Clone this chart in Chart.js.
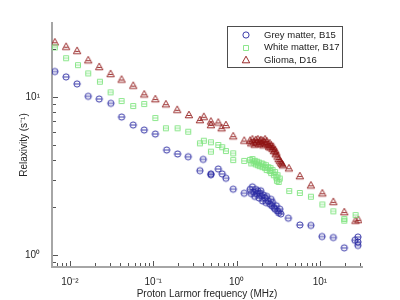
<!DOCTYPE html>
<html>
<head>
<meta charset="utf-8">
<script src="https://cdn.jsdelivr.net/npm/chart.js@4/dist/chart.umd.min.js"></script>
<style>
    html, body { margin: 0; padding: 0; background: #ffffff; }
</style>
</head>
<body>
<canvas id="relax" width="400" height="300"></canvas>
<script>
// Grey matter, B15 (circles)
const greyFreq = [0.0066, 0.009, 0.0122, 0.0166, 0.0225, 0.031, 0.0417, 0.0575, 0.078, 0.106, 0.145, 0.196, 0.263, 0.363, 0.398, 0.492, 0.492, 0.603, 0.673, 0.745, 0.912, 1.235,
    1.45, 1.5, 1.55, 1.6, 1.65, 1.7, 1.75, 1.8, 1.85, 1.9, 1.95, 2.0, 2.05, 2.1, 2.2, 2.25, 2.3, 2.4, 2.5, 2.6, 2.65, 2.7, 2.8, 2.9, 3.0, 3.1, 3.2, 3.3, 3.4,
    4.18, 5.75, 7.8, 10.6, 14.5, 19.6, 26.3, 28.6, 28.6, 28.6];
const greyRelax = [14.5, 13.4, 12.1, 10.1, 9.71, 9.12, 7.47, 6.65, 6.18, 5.83, 4.62, 4.36, 4.19, 3.42, 4.03, 3.26, 3.22, 3.50, 3.26, 3.06, 2.61, 2.46,
    2.6, 2.45, 2.7, 2.5, 2.35, 2.6, 2.45, 2.55, 2.3, 2.45, 2.55, 2.35, 2.2, 2.4, 2.3, 2.15, 2.35, 2.2, 2.1, 2.25, 2.05, 2.15, 2.0, 1.95, 2.05, 1.9, 1.85, 1.95, 1.82,
    1.71, 1.55, 1.54, 1.31, 1.29, 1.11, 1.24, 1.30, 1.21, 1.15];

// White matter, B17 (squares)
const whiteFreq = [0.0066, 0.009, 0.0125, 0.0166, 0.0229, 0.0308, 0.0417, 0.0575, 0.078, 0.106, 0.142, 0.196, 0.263, 0.363, 0.405, 0.492, 0.492, 0.603, 0.673, 0.745, 0.912, 0.912, 1.235,
    1.45, 1.5, 1.55, 1.6, 1.65, 1.7, 1.75, 1.8, 1.85, 1.9, 2.0, 2.05, 2.1, 2.2, 2.25, 2.3, 2.4, 2.5, 2.55, 2.6, 2.7, 2.8, 2.9, 3.0, 3.05, 3.1, 3.2, 3.3,
    4.28, 5.75, 7.8, 10.7, 14.5, 19.6, 19.6, 26.8];
const whiteRelax = [20.6, 17.6, 15.9, 14.1, 12.5, 10.7, 9.43, 8.77, 9.03, 7.36, 6.34, 6.34, 6.03, 5.09, 5.29, 5.17, 4.51, 4.97, 4.81, 4.55, 4.40, 3.99, 3.94,
    4.0, 3.8, 4.05, 3.85, 3.95, 3.75, 3.9, 3.7, 3.85, 3.65, 3.8, 3.6, 3.75, 3.55, 3.7, 3.45, 3.6, 3.4, 3.55, 3.3, 3.45, 3.2, 3.35, 3.1, 2.95, 3.2, 2.9, 3.05,
    2.54, 2.47, 2.34, 2.09, 1.89, 1.65, 1.69, 1.79];

// Glioma, D16 (triangles)
const gliomaFreq = [0.0066, 0.009, 0.0122, 0.0166, 0.0225, 0.0308, 0.0417, 0.0575, 0.078, 0.106, 0.142, 0.194, 0.268, 0.363, 0.405, 0.492, 0.492, 0.603, 0.661, 0.745, 0.912, 1.235,
    1.45, 1.5, 1.55, 1.6, 1.65, 1.7, 1.75, 1.8, 1.85, 1.9, 1.95, 2.0, 2.05, 2.1, 2.15, 2.2, 2.25, 2.3, 2.4, 2.45, 2.5, 2.55, 2.6, 2.7, 2.75, 2.8, 2.9, 2.95, 3.0, 3.1, 3.2, 3.3, 3.4, 3.5, 3.6,
    4.25, 5.75, 7.8, 10.7, 14.5, 19.6, 26.7, 29.0];
const gliomaRelax = [22.2, 20.8, 19.6, 17.1, 15.5, 14.0, 12.9, 11.8, 10.4, 9.7, 9.0, 8.3, 7.7, 7.15, 7.5, 7.0, 6.65, 6.9, 6.35, 6.65, 5.65, 5.3,
    5.3, 5.1, 5.4, 5.2, 5.0, 5.35, 5.15, 5.4, 5.05, 5.25, 5.35, 5.1, 5.3, 4.95, 5.2, 5.4, 5.05, 5.25, 5.0, 4.85, 5.1, 4.8, 4.95, 4.7, 4.85, 4.55, 4.6, 4.35, 4.45, 4.2, 4.05, 3.95, 3.85, 3.78, 3.7,
    3.54, 3.16, 2.76, 2.46, 2.17, 1.87, 1.65, 1.67];

const seriesLabels = ["Grey matter, B15", "White matter, B17", "Glioma, D16"];
const seriesColors = ["#2626a0", "#80e480", "#8e1414"];
const seriesShapes = ["circle", "square", "triangle"];

const xMin = 0.0061, xMax = 32;
const yMin = 0.84, yMax = 29.4;

const FONT = "Arial, Liberation Sans, sans-serif";
const SUP = {"-": "\u207B", "0": "\u2070", "1": "\u00B9", "2": "\u00B2", "3": "\u00B3", "4": "\u2074", "5": "\u2075", "6": "\u2076", "7": "\u2077", "8": "\u2078", "9": "\u2079"};

function isPow10(v) {
    const l = Math.log10(v);
    return Math.abs(l - Math.round(l)) < 1e-9;
}

function powLabel(v) {
    if (!isPow10(v)) return "";
    const e = String(Math.round(Math.log10(v)));
    return "10" + e.split("").map(c => SUP[c]).join("");
}

// ticks at 1..9 x 10^n inside the axis range
function decadeTicks(scale) {
    const out = [];
    const e0 = Math.floor(Math.log10(scale.min)), e1 = Math.ceil(Math.log10(scale.max));
    for (let e = e0; e <= e1; e++) {
        for (let m = 1; m <= 9; m++) {
            const v = parseFloat((m * Math.pow(10, e)).toPrecision(6));
            if (v >= scale.min && v <= scale.max) out.push({value: v});
        }
    }
    scale.ticks = out;
}

// marker with the small horizontal bar through it
function makeMarker(shape, color, bar) {
    const c = document.createElement("canvas");
    c.width = 10; c.height = 10;
    const g = c.getContext("2d");
    g.strokeStyle = color;
    g.lineWidth = 0.9;
    g.beginPath();
    if (shape === "circle") {
        g.arc(5, 5, 3.1, 0, Math.PI * 2);
    } else if (shape === "square") {
        g.rect(2.5, 2.5, 5, 5);
    } else {
        g.moveTo(5, 1.2); g.lineTo(8.7, 7.8); g.lineTo(1.3, 7.8); g.closePath();
    }
    g.stroke();
    if (bar) {
        g.beginPath();
        if (shape === "triangle") { g.moveTo(3.2, 5.5); g.lineTo(6.8, 5.5); }
        else if (shape === "square") { g.moveTo(2.5, 5); g.lineTo(7.5, 5); }
        else { g.moveTo(1.9, 5); g.lineTo(8.1, 5); }
        g.stroke();
    }
    return c;
}

function toPoints(xs, ys) {
    return xs.map((x, i) => ({x: x, y: ys[i]}));
}

const inwardTicks = {
    id: "inwardTicks",
    afterDraw(chart) {
        const {ctx, chartArea} = chart;
        const xs = chart.scales.x, ys = chart.scales.y;
        ctx.save();
        ctx.strokeStyle = "#555555";
        ctx.lineWidth = 1;
        xs.ticks.forEach(t => {
            const px = Math.round(xs.getPixelForValue(t.value)) + 0.5;
            const len = isPow10(t.value) ? 5 : 3;
            ctx.beginPath(); ctx.moveTo(px, chartArea.bottom - 1); ctx.lineTo(px, chartArea.bottom - 1 - len); ctx.stroke();
        });
        ys.ticks.forEach(t => {
            const py = Math.round(ys.getPixelForValue(t.value)) + 0.5;
            const len = isPow10(t.value) ? 5 : 3;
            ctx.beginPath(); ctx.moveTo(chartArea.left + 1, py); ctx.lineTo(chartArea.left + 1 + len, py); ctx.stroke();
        });
        ctx.restore();
    }
};

const boxLegend = {
    id: "boxLegend",
    afterDatasetsDraw(chart) {
        const ctx = chart.ctx;
        ctx.save();
        ctx.fillStyle = "#ffffff";
        ctx.fillRect(227, 26, 115, 41);
        ctx.strokeStyle = "#4d4d4d";
        ctx.lineWidth = 1;
        ctx.strokeRect(227.5, 26.5, 115, 41);
        ctx.font = "9.5px " + FONT;
        ctx.textBaseline = "middle";
        seriesLabels.forEach((lab, i) => {
            const y = 35 + i * 12.5;
            const m = makeMarker(seriesShapes[i], seriesColors[i], false);
            ctx.drawImage(m, 241, Math.round(y) - 5);
            ctx.fillStyle = "#1a1a1a";
            ctx.fillText(lab, 264, y);
        });
        ctx.restore();
    }
};

new Chart("relax", {
    type: "scatter",
    data: {
        datasets: [
            {label: seriesLabels[0], data: toPoints(greyFreq, greyRelax), pointStyle: makeMarker("circle", seriesColors[0], true), pointRadius: 4},
            {label: seriesLabels[1], data: toPoints(whiteFreq, whiteRelax), pointStyle: makeMarker("square", seriesColors[1], true), pointRadius: 4},
            {label: seriesLabels[2], data: toPoints(gliomaFreq, gliomaRelax), pointStyle: makeMarker("triangle", seriesColors[2], true), pointRadius: 4}
        ]
    },
    options: {
        responsive: false,
        devicePixelRatio: 1,
        animation: false,
        layout: {padding: {top: 23, right: 38, left: 0, bottom: 0}},
        plugins: {legend: {display: false}, tooltip: {enabled: false}},
        scales: {
            x: {
                type: "logarithmic",
                min: xMin, max: xMax,
                afterBuildTicks: decadeTicks,
                afterFit: s => { s.height = 33; },
                border: {display: true, color: "#a6a6a6", width: 2},
                grid: {display: false},
                ticks: {
                    autoSkip: false, maxRotation: 0, padding: 1,
                    color: "#262626", font: {family: FONT, size: 10},
                    callback: v => powLabel(v)
                },
                title: {display: true, text: "Proton Larmor frequency (MHz)", color: "#262626",
                    font: {family: FONT, size: 10}, padding: {top: 1, bottom: 0}}
            },
            y: {
                type: "logarithmic",
                min: yMin, max: yMax,
                afterBuildTicks: decadeTicks,
                afterFit: s => { s.width = 52; },
                border: {display: true, color: "#a6a6a6", width: 2},
                grid: {display: false},
                ticks: {
                    autoSkip: false, padding: 4,
                    color: "#262626", font: {family: FONT, size: 10},
                    callback: v => powLabel(v)
                },
                title: {display: true, text: "Relaxivity (s\u207B\u00B9)", color: "#262626",
                    font: {family: FONT, size: 10}, padding: {top: 18, bottom: 0}}
            }
        }
    },
    plugins: [inwardTicks, boxLegend]
});
</script>
</body>
</html>
